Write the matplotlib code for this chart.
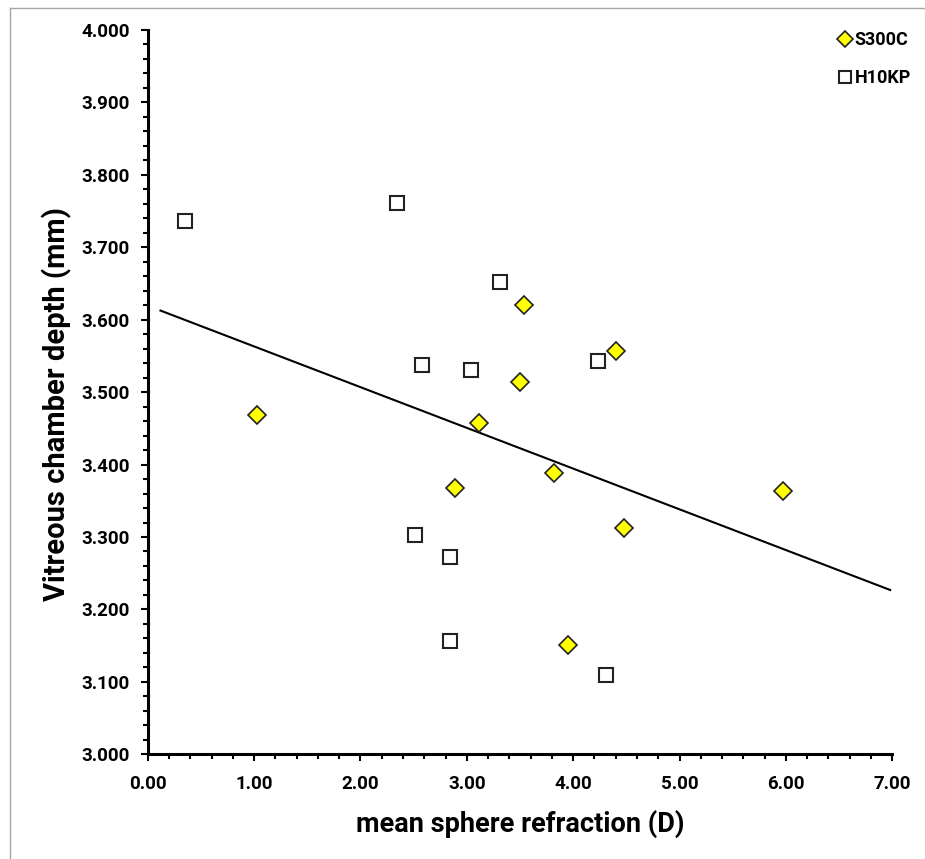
import numpy as np
import matplotlib
matplotlib.use("Agg")
import matplotlib.pyplot as plt
from matplotlib.lines import Line2D
from matplotlib.ticker import MultipleLocator, FormatStrFormatter

plt.rcParams["font.family"] = ["Roboto", "DejaVu Sans"]
plt.rcParams["font.weight"] = "bold"

# S300C-Gruppe
s300c_x = [1.03, 2.89, 3.11, 3.50, 3.54, 3.82, 3.95, 4.40, 4.48, 5.97]
s300c_y = [3.469, 3.368, 3.458, 3.514, 3.620, 3.389, 3.151, 3.557, 3.313, 3.364]

# H10KP-Gruppe
h10kp_x = [0.35, 2.34, 2.51, 2.58, 2.84, 2.84, 3.04, 3.31, 4.23, 4.31]
h10kp_y = [3.736, 3.761, 3.303, 3.538, 3.273, 3.157, 3.531, 3.652, 3.543, 3.110]

# Trendlinie
trend_slope = -0.05624
trend_intercept = 3.6194
trend_x = np.array([0.12, 6.98])
trend_y = trend_intercept + trend_slope * trend_x

W, H = 925, 859
fig = plt.figure(figsize=(W / 100, H / 100), dpi=100)
ax = fig.add_axes([147.7 / W, 1 - 754.3 / H, (892.3 - 147.7) / W, (754.3 - 30) / H])

ax.plot(trend_x, trend_y, color="black", lw=1.5, zorder=2)
ax.plot(h10kp_x, h10kp_y, ls="none", marker="s", ms=10.5, mfc="white", mec="#222222",
        mew=1.5, label="H10KP", zorder=3)
ax.plot(s300c_x, s300c_y, ls="none", marker="D", ms=9.3, mfc="#ffff00", mec="#222222",
        mew=1.2, label="S300C", zorder=4)

ax.set_xlim(0, 7)
ax.set_ylim(3.0, 4.0)
ax.xaxis.set_major_locator(MultipleLocator(1))
ax.xaxis.set_minor_locator(MultipleLocator(0.2))
ax.yaxis.set_major_locator(MultipleLocator(0.1))
ax.yaxis.set_minor_locator(MultipleLocator(0.02))
ax.xaxis.set_major_formatter(FormatStrFormatter("%.2f"))
ax.yaxis.set_major_formatter(FormatStrFormatter("%.3f"))

for side in ["top", "right"]:
    ax.spines[side].set_visible(False)
for side in ["left", "bottom"]:
    ax.spines[side].set_linewidth(2.2)

ax.tick_params(which="major", direction="out", length=5, width=1.5, labelsize=13.5)
ax.tick_params(axis="x", which="major", pad=10)
ax.tick_params(axis="y", which="major", pad=8)
ax.tick_params(which="minor", direction="out", length=3.5, width=1.5)
for lbl in ax.get_xticklabels() + ax.get_yticklabels():
    lbl.set_fontweight("bold")

ax.set_xlabel("mean sphere refraction (D)", fontsize=19.5, fontweight="bold", labelpad=12)
ax.set_ylabel("Vitreous chamber depth (mm)", fontsize=21, fontweight="bold")
ax.yaxis.set_label_coords(-0.101, 0.484)

handles, labels = ax.get_legend_handles_labels()
leg = ax.legend(handles[::-1], labels[::-1], loc="upper right",
                bbox_to_anchor=(918 / W, 1 - 24 / H), bbox_transform=fig.transFigure,
                frameon=False, fontsize=13, handletextpad=0.1, labelspacing=1.1,
                handlelength=0.9, markerscale=0.85, borderaxespad=0)
for t in leg.get_texts():
    t.set_fontweight("bold")

# grauer Rahmen links und oben
fig.add_artist(Line2D([9.5 / W, 9.5 / W], [0, 1 - 7.5 / H], transform=fig.transFigure,
                      color="#a6a6a6", lw=1))
fig.add_artist(Line2D([9.5 / W, 1], [1 - 7.5 / H, 1 - 7.5 / H], transform=fig.transFigure,
                      color="#a6a6a6", lw=1))

fig.savefig("out.png", dpi=100, facecolor="white")
